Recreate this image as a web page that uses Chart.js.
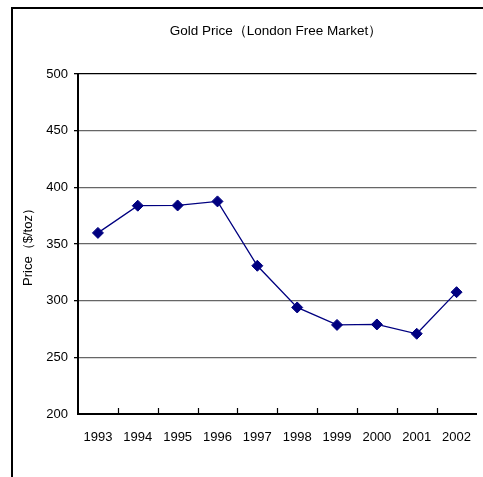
<!DOCTYPE html>
<html>
<head>
<meta charset="utf-8">
<script src="https://cdn.jsdelivr.net/npm/chart.js@4"></script>
<style>
  html, body { margin: 0; padding: 0; background: #fff; overflow: hidden; width: 483px; height: 477px; }
  .line { position: absolute; background: #000; }
  #wrap { position: absolute; left: 11px; top: 7px; width: 472px; height: 470px; }
</style>
</head>
<body>
<div id="wrap"><canvas id="goldChart"></canvas></div>
<div class="line" style="left:11px; top:7px; width:472px; height:1.5px;"></div>
<div class="line" style="left:11px; top:7px; width:1.5px; height:470px;"></div>
<script>
const years = ['1993', '1994', '1995', '1996', '1997', '1998', '1999', '2000', '2001', '2002'];
const prices = [359.8, 383.8, 384.0, 387.6, 330.8, 294.0, 278.6, 279.0, 270.8, 307.5];
const yTicks = [200, 250, 300, 350, 400, 450, 500];
const chartTitle = 'Gold Price（London Free Market）';

const font = "'Liberation Sans', Arial, sans-serif";

// the original chart is wider than the window, so its title sits right of the middle
const offsetTitle = {
  id: 'offsetTitle',
  afterDraw(chart) {
    const ctx = chart.ctx;
    ctx.save();
    ctx.font = '13.5px ' + font;
    ctx.fillStyle = '#000';
    ctx.textAlign = 'center';
    ctx.textBaseline = 'middle';
    ctx.fillText(chartTitle, 265, 24);
    ctx.restore();
  }
};

// little inward tick marks at the category boundaries on the x axis
const innerTicks = {
  id: 'innerTicks',
  afterDatasetsDraw(chart) {
    const x = chart.scales.x;
    const y = chart.scales.y;
    const ctx = chart.ctx;
    const step = x.getPixelForValue(1) - x.getPixelForValue(0);
    ctx.save();
    ctx.strokeStyle = '#000';
    ctx.lineWidth = 1.2;
    ctx.beginPath();
    for (let i = 1; i < years.length; i++) {
      const px = Math.round(x.getPixelForValue(i) - step / 2) + 0.5;
      ctx.moveTo(px, y.bottom);
      ctx.lineTo(px, y.bottom - 6);
    }
    ctx.stroke();
    ctx.restore();
  }
};

new Chart(document.getElementById('goldChart'), {
  type: 'line',
  data: {
    labels: years,
    datasets: [{
      data: prices,
      borderColor: '#000080',
      borderWidth: 1.3,
      backgroundColor: '#000080',
      pointStyle: 'rectRot',
      pointRadius: 5.5,
      pointBorderWidth: 1,
      pointBorderColor: '#000080',
      tension: 0
    }]
  },
  options: {
    responsive: true,
    maintainAspectRatio: false,
    animation: false,
    layout: { padding: { top: 67, right: -2, bottom: 0, left: 0 } },
    plugins: {
      legend: { display: false },
      tooltip: { enabled: false },
      title: { display: false }
    },
    scales: {
      x: {
        offset: true,
        grid: { display: false },
        border: { display: true, color: '#000', width: 2 },
        ticks: { color: '#000', font: { family: font, size: 13 }, padding: 8, maxRotation: 0 },
        afterFit(scale) {
          scale.height = 63;
          scale.paddingLeft = 0;
          scale.paddingRight = 0;
        }
      },
      y: {
        min: 200,
        max: 500,
        afterBuildTicks(scale) { scale.ticks = yTicks.map(v => ({ value: v })); },
        grid: {
          color: ctx => ctx.tick && ctx.tick.value === 500 ? '#000' : '#666',
          lineWidth: ctx => ctx.tick && ctx.tick.value === 200 ? 0 : 1.3,
          tickLength: 4,
          tickColor: '#000'
        },
        border: { display: true, color: '#000', width: 2 },
        ticks: { color: '#000', font: { family: font, size: 13 }, padding: 6 },
        title: {
          display: true,
          text: 'Price（$/toz）',
          color: '#000',
          font: { family: font, size: 13 },
          padding: { top: 10, bottom: 0 }
        },
        afterFit(scale) { scale.width = 67; }
      }
    }
  },
  plugins: [innerTicks, offsetTitle]
});
</script>
</body>
</html>
